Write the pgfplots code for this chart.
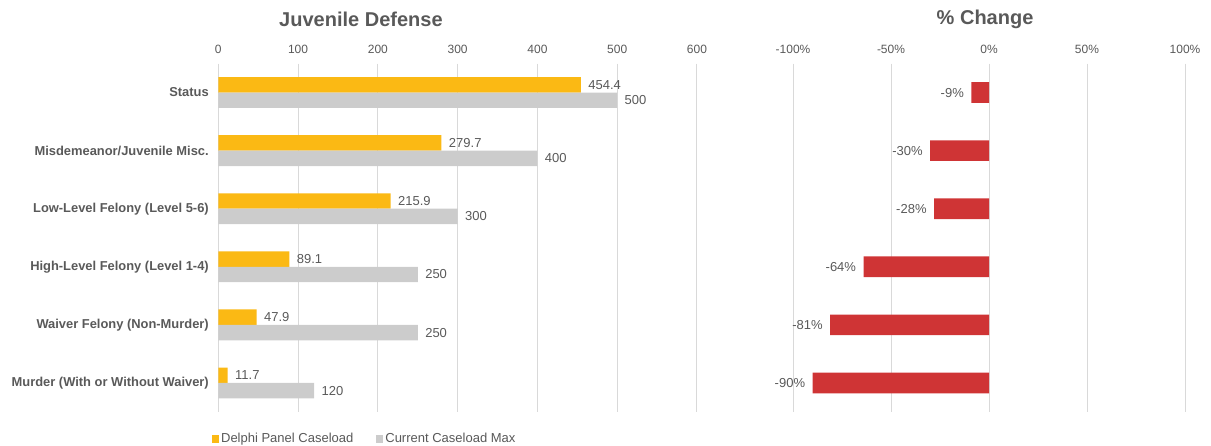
\documentclass[border=0pt]{standalone}
\usepackage{pgfplots}
\pgfplotsset{compat=1.18}
\usepackage{fontspec}
\setmainfont{Liberation Sans}
\definecolor{orangeb}{HTML}{FBB914}
\definecolor{grayb}{HTML}{CCCCCC}
\definecolor{redb}{HTML}{CF3435}
\definecolor{txt}{HTML}{595959}
\definecolor{gridc}{HTML}{D9D9D9}
\newcommand{\fs}[1]{\fontsize{#1}{#1}\selectfont}

\begin{document}
\begin{tikzpicture}
\path[use as bounding box] (0,0) rectangle (1211pt,446pt);
\begin{axis}[
 at={(218.3pt,34pt)}, anchor=south west,
 scale only axis, width=478.7pt, height=348.5pt,
 xmin=0, xmax=600, ymin=-0.5, ymax=5.5, y dir=reverse,
 xbar, bar width=0.265,
 axis line style={draw=none}, major tick length=0pt,
 xtick={0,100,...,600}, xticklabel pos=right,
 xmajorgrids, grid style={gridc, line width=1pt},
 ytick={0,...,5},
 yticklabels={Status, Misdemeanor/Juvenile Misc., Low-Level Felony (Level 5-6), High-Level Felony (Level 1-4), Waiver Felony (Non-Murder), Murder (With or Without Waiver)},
 yticklabel style={font=\bfseries\fs{12.9}, text=txt, xshift=-6pt},
 xticklabel style={font=\fs{12}, text=txt, yshift=6pt},
 /pgf/number format/assume math mode=true,
 nodes near coords, nodes near coords align=horizontal,
 every node near coord/.append style={font=\fs{13}, text=txt, xshift=4pt},
 point meta=x,
 title={Juvenile Defense},
 title style={font=\bfseries\fs{20}, text=txt, at={(0.298,1.128)}, anchor=center, yshift=-6.5pt},
 legend columns=2,
 legend style={draw=none, at={(0.306,-0.0775)}, anchor=center, font=\fs{13}, text=txt,
   /tikz/every even column/.append style={column sep=21pt}},
 legend image code/.code={\fill[#1] (0pt,-4pt) rectangle (7pt,4pt);},
 clip=false,
]
\addplot[fill=orangeb, draw=none, bar shift=-0.1325] coordinates {(454.4,0) (279.7,1) (215.9,2) (89.1,3) (47.9,4) (11.7,5)};
\addplot[fill=grayb, draw=none, bar shift=0.1325] coordinates {(500,0) (400,1) (300,2) (250,3) (250,4) (120,5)};
\legend{Delphi Panel Caseload, Current Caseload Max}
\end{axis}
\begin{axis}[
 at={(793pt,34pt)}, anchor=south west,
 scale only axis, width=392pt, height=348.5pt,
 xmin=-100, xmax=100, ymin=-0.5, ymax=5.5, y dir=reverse,
 xbar, bar width=0.355,
 axis line style={draw=none}, major tick length=0pt,
 xtick={-100,-50,0,50,100}, xticklabels={-100\%,-50\%,0\%,50\%,100\%},
 xticklabel pos=right,
 xmajorgrids, grid style={gridc, line width=1pt},
 ytick=\empty,
 xticklabel style={font=\fs{12}, text=txt, yshift=6pt},
 point meta=explicit symbolic,
 nodes near coords,
 every node near coord/.append style={font=\fs{13}, text=txt, anchor=east, xshift=-4pt},
 title={\% Change},
 title style={font=\bfseries\fs{20}, text=txt, at={(0.49,1.128)}, anchor=center, yshift=-6.5pt},
 clip=false,
]
\addplot[fill=redb, draw=none] coordinates {(-9,0) [-9\%] (-30,1) [-30\%] (-28,2) [-28\%] (-64,3) [-64\%] (-81,4) [-81\%] (-90,5) [-90\%]};
\end{axis}
\end{tikzpicture}
\end{document}
